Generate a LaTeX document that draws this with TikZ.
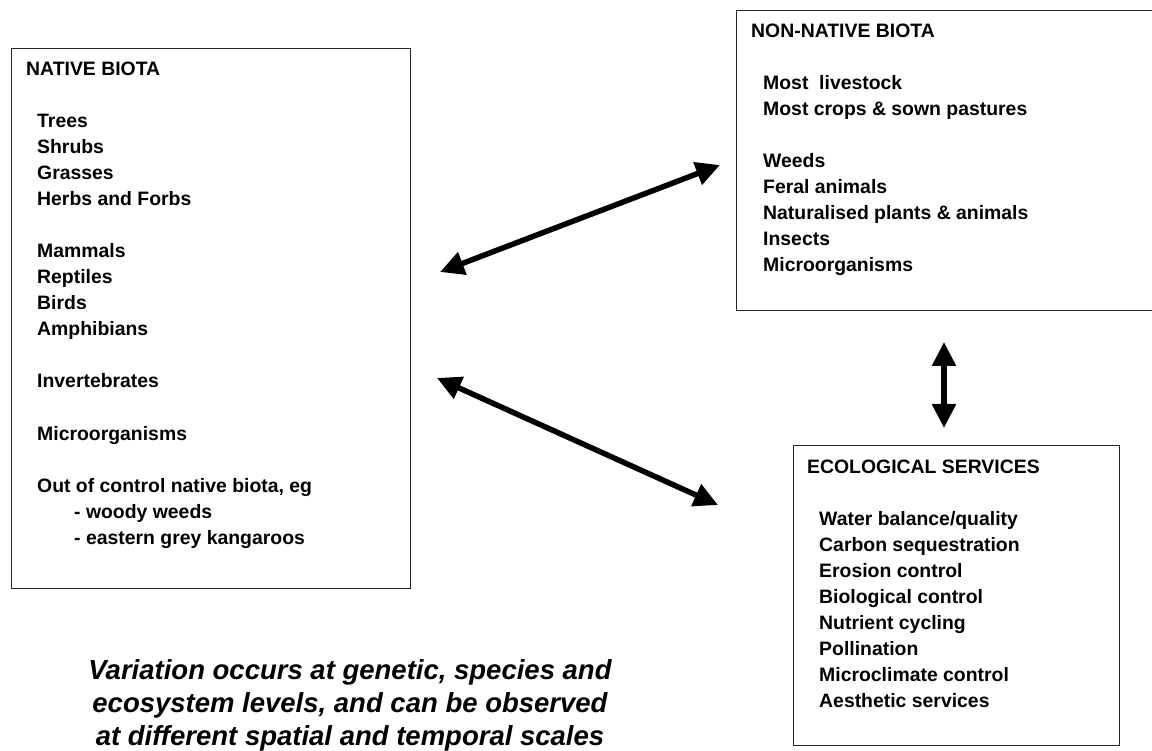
\documentclass[tikz,border=0pt]{standalone}
\usepackage{fontspec}
\setmainfont{Liberation Sans}
\usetikzlibrary{arrows.meta}
\begin{document}
\begin{tikzpicture}[x=1pt,y=-1pt,
  box/.style={draw=black!85, line width=1.3pt, inner sep=0pt, anchor=north west},
  txt/.style={anchor=base west, inner sep=0pt, font=\fontsize{19.4}{26}\selectfont\bfseries},
  note/.style={anchor=base, inner sep=0pt, font=\fontsize{27.5}{33}\selectfont\bfseries\itshape},
  link/.style={line width=5.5pt, {Triangle[length=24pt,width=23pt]}-{Triangle[length=24pt,width=23pt]}}]
\useasboundingbox (0,0) rectangle (1152,751);
\fill[white] (0,0) rectangle (1152,751);
% boxes
\node[box, minimum width=399pt, minimum height=540pt] (native) at (11,48) {};
\node[box, minimum width=417pt, minimum height=300pt] (nonnative) at (736,10) {};
\node[box, minimum width=326pt, minimum height=300pt] (eco) at (793,445) {};
% native biota
\node[txt] (natT) at (26,76) {NATIVE BIOTA};
\foreach \y/\t [count=\i] in {128/Trees,154/Shrubs,180/Grasses,206/Herbs and Forbs,
  258/Mammals,284/Reptiles,310/Birds,336/Amphibians,388/Invertebrates,440/Microorganisms,
  492/{Out of control native biota, eg}}
  \node[txt] (nat\i) at (37,\y) {\t};
\node[txt] (natS1) at (74,518) {- woody weeds};
\node[txt] (natS2) at (74,544) {- eastern grey kangaroos};
% non-native biota
\node[txt] (nonT) at (751,38) {NON-NATIVE BIOTA};
\foreach \y/\t [count=\i] in {90/Most\ \ livestock,116/Most crops \& sown pastures,
  168/Weeds,194/Feral animals,220/Naturalised plants \& animals,246/Insects,272/Microorganisms}
  \node[txt] (non\i) at (763,\y) {\t};
% ecological services
\node[txt] (ecoT) at (807,473) {ECOLOGICAL SERVICES};
\foreach \y/\t [count=\i] in {525/Water balance\slash quality,551/Carbon sequestration,
  577/Erosion control,603/Biological control,629/Nutrient cycling,655/Pollination,
  681/Microclimate control,707/Aesthetic services}
  \node[txt] (eco\i) at (819,\y) {\t};
% note
\node[note] (n1) at (350,679) {Variation occurs at genetic, species and};
\node[note] (n2) at (350,712) {ecosystem levels, and can be observed};
\node[note] (n3) at (350,745) {at different spatial and temporal scales};
% arrows
\coordinate (a1) at (440,272);
\coordinate (b1) at (720,165);
\coordinate (a2) at (437,378);
\coordinate (b2) at (718,505);
\coordinate (a3) at (944,342);
\coordinate (b3) at (944,428);
\draw[link] (a1) -- (b1);
\draw[link] (a2) -- (b2);
\draw[link] (a3) -- (b3);
\end{tikzpicture}
\end{document}
